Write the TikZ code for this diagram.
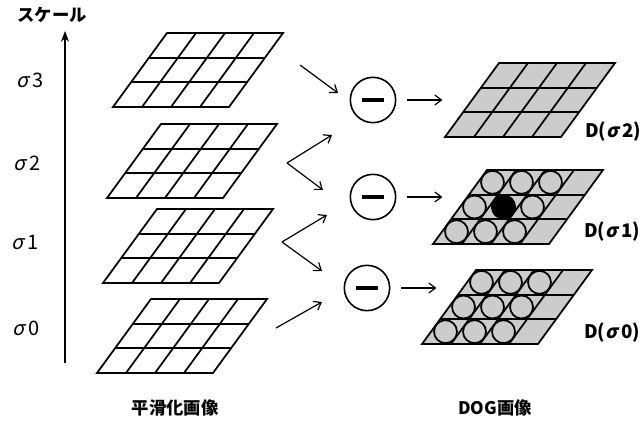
\documentclass[tikz,border=0pt]{standalone}
\usepackage{fontspec}
\newfontfamily\jpfont{Noto Sans CJK JP}
\usetikzlibrary{arrows.meta,calc}
\definecolor{dogfill}{gray}{0.8}
\newcommand\sig{{\addfontfeature{FakeSlant=0.22}σ}\kern0.2em}

\begin{document}
\begin{tikzpicture}[x=0.75pt,y=-0.75pt,>={Straight Barb[length=5pt,width=7.5pt]},
		font=\jpfont\fontsize{13}{15}\selectfont,
		cell/.style={line width=1.3pt,line join=miter},
		flow/.style={->,line width=0.9pt},
		level/.style={font=\jpfont\fontsize{15}{17}\selectfont},
		dlabel/.style={font=\jpfont\fontsize{14}{16}\selectfont\bfseries},
		minus/.style={draw,circle,line width=1.2pt,minimum size=34pt,inner sep=0pt}]
	\useasboundingbox (0,0) rectangle (643,423);
	% smoothed images, sigma 3 down to sigma 0
	\foreach \px/\py in {113/107,107/198,103/283,97/373}{
		\begin{scope}[shift={(\px,\py)},x={(21.75pt,0pt)},y={(13.5pt,18.5pt)}]
			\draw[cell] (0,0)--(4,0)--(4,3)--(0,3)--cycle;
			\foreach \i in {1,2,3} \draw[cell] (\i,0)--(\i,3);
			\foreach \j in {1,2} \draw[cell] (0,\j)--(4,\j);
		\end{scope}
	}
	% DoG images
	\foreach \px/\py/\dots in {445/137/0,433/244/1,422/344/1}{
		\begin{scope}[shift={(\px,\py)},x={(21.75pt,0pt)},y={(13.5pt,18.5pt)}]
			\fill[dogfill] (0,0)--(4,0)--(4,3)--(0,3)--cycle;
			\draw[cell] (0,0)--(4,0)--(4,3)--(0,3)--cycle;
			\foreach \i in {1,2,3} \draw[cell] (\i,0)--(\i,3);
			\foreach \j in {1,2} \draw[cell] (0,\j)--(4,\j);
			\ifnum\dots=1
				\foreach \i in {0,1,2}
					\foreach \j in {0,1,2}
						\filldraw[cell,fill=dogfill] (\i+0.5,\j+0.5) circle[radius=8.6pt];
			\fi
		\end{scope}
	}
	\filldraw[cell] ($(433,244)+(1.5*29+1.5*18,-1.5*24.7)$) circle[radius=8.6pt];
	% scale axis
	\draw[line width=1.6pt,-{Stealth[length=8pt,width=6pt]}] (65,363)--(65,31);
	\node (scale) at (52,15) {\bfseries スケール};
	\node[level] (s3) at (30,80) {\sig3};
	\node[level] (s2) at (27,163) {\sig2};
	\node[level] (s1) at (25,243) {\sig1};
	\node[level] (s0) at (26,328) {\sig0};
	% differences
	\node[minus] (m2) at (373,100) {\rule{17pt}{3pt}};
	\node[minus] (m1) at (373,197) {\rule{17pt}{3pt}};
	\node[minus] (m0) at (367,288) {\rule{17pt}{3pt}};
	\coordinate (v3) at (300,65);
	\coordinate (v2) at (287,163);
	\coordinate (v1) at (282,242);
	\coordinate (v0) at (276,328);
	\coordinate (m2a) at ($(m2)+(-35,-7)$);
	\coordinate (m2b) at ($(m2)+(-41,35)$);
	\coordinate (m1a) at ($(m1)+(-50,-7)$);
	\coordinate (m1b) at ($(m1)+(-46,18)$);
	\coordinate (m0a) at ($(m0)+(-45,-17)$);
	\coordinate (m0b) at ($(m0)+(-45,14)$);
	\draw[flow] (v3)--(m2a);
	\draw[flow] (v2)--(m2b);
	\draw[flow] (v2)--(m1a);
	\draw[flow] (v1)--(m1b);
	\draw[flow] (v1)--(m0a);
	\draw[flow] (v0)--(m0b);
	\coordinate (e2) at ($(m2.east)+(46,0)$);
	\coordinate (e1) at ($(m1.east)+(46,0)$);
	\coordinate (e0) at ($(m0.east)+(46,0)$);
	\draw[flow,shorten <=8pt] (m2.east)--(e2);
	\draw[flow,shorten <=8pt] (m1.east)--(e1);
	\draw[flow,shorten <=8pt] (m0.east)--(e0);
	\node[dlabel] (d2) at (613,132) {D(\sig2)};
	\node[dlabel] (d1) at (612,232) {D(\sig1)};
	\node[dlabel] (d0) at (612,333) {D(\sig0)};
	\node (smooth) at (175,408) {\bfseries 平滑化画像};
	\node (dog) at (495,408) {\bfseries DOG画像};
\end{tikzpicture}
\end{document}
